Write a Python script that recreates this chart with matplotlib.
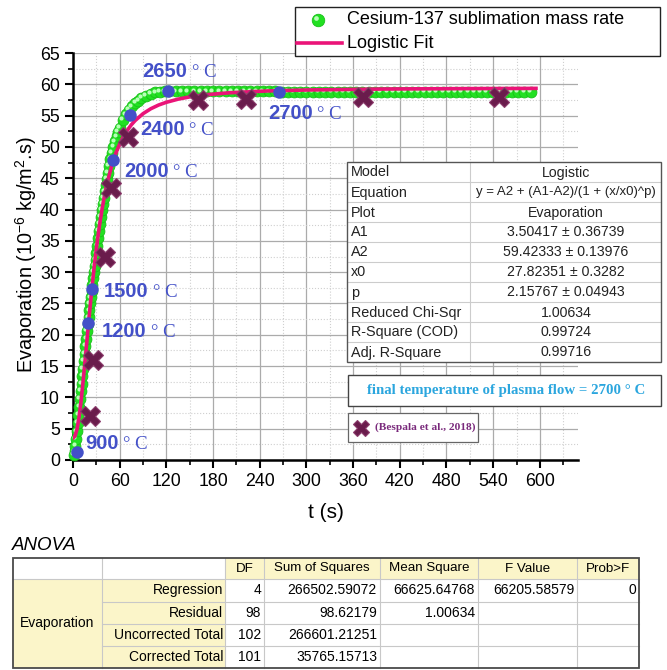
import matplotlib
matplotlib.use('Agg')
import matplotlib.pyplot as plt
from matplotlib.patches import Rectangle
from matplotlib.lines import Line2D
from matplotlib.transforms import offset_copy
from matplotlib.ticker import MultipleLocator

plt.rcParams['font.family'] = ['Liberation Sans', 'DejaVu Sans']
plt.rcParams['mathtext.fontset'] = 'custom'
plt.rcParams['mathtext.rm'] = 'Liberation Sans'
plt.rcParams['mathtext.it'] = 'Liberation Sans:italic'

# Cesium-137 sublimation mass rate (green points)
green_t = [1, 2, 3, 4, 5, 6, 7, 8, 9, 10,
           11, 12, 13, 14, 15, 16, 17, 18, 19, 20,
           21, 22, 23, 24, 25, 26, 27, 28, 29, 30,
           31.2, 32.4, 33.6, 34.8, 36.0, 37.2, 38.4, 39.6, 40.8, 42.0,
           43.2, 44.4, 46, 48, 50, 52, 54, 56, 58, 60,
           64, 68, 72, 76, 80, 84, 88, 94, 100, 106,
           112, 118, 124,
           132, 140, 148, 156, 164, 172, 180, 188, 196, 204,
           212, 220, 228, 236, 244, 252, 260, 268, 276, 284,
           292, 300, 308, 316, 324, 332, 340, 348, 356, 364,
           372, 380, 388, 396, 404, 412, 420, 428, 436, 444,
           452, 460, 468, 476, 484, 492, 500, 508, 516, 524,
           532, 540, 548, 556, 564, 572, 580, 588]
green_y = [0.8, 1.4, 2.3, 3.4, 4.6, 5.9, 7.2, 8.5, 9.8, 11.0,
           12.2, 13.4, 14.6, 15.8, 17.0, 18.2, 19.4, 20.6, 21.7, 22.8,
           23.9, 25.0, 26.0, 27.0, 28.0, 29.0, 30.0, 31.0, 32.0, 33.0,
           34.2, 35.4, 36.6, 37.7, 38.8, 39.9, 40.9, 41.9, 42.9, 43.9,
           44.9, 45.9, 47.0, 48.1, 49.1, 50.0, 50.9, 51.7, 52.4, 53.1,
           54.3, 55.2, 55.9, 56.5, 57.0, 57.4, 57.8, 58.2, 58.5, 58.7,
           58.8, 58.9, 58.9,
           58.9, 58.9, 58.9, 58.9, 58.9, 58.9, 58.9, 58.9, 58.9, 58.9,
           58.9, 58.9, 58.9, 58.9, 58.9, 58.9, 58.9, 58.8, 58.8, 58.8,
           58.8, 58.8, 58.8, 58.8, 58.8, 58.8, 58.8, 58.8, 58.8, 58.8,
           58.8, 58.8, 58.8, 58.8, 58.8, 58.8, 58.8, 58.8, 58.8, 58.8,
           58.8, 58.8, 58.8, 58.8, 58.8, 58.8, 58.8, 58.8, 58.8, 58.8,
           58.8, 58.8, 58.8, 58.8, 58.8, 58.8, 58.8, 58.8]

# logistic fit curve (pink)
fit_t = [0, 2.5, 5, 7.5, 10, 12.5, 15, 17.5, 20, 22.5, 25, 27.5, 30, 32.5, 35, 37.5,
         40, 42.5, 45, 50, 55, 60, 65, 70, 75, 80, 90, 100, 110, 120, 135, 150, 170,
         200, 250, 300, 400, 500, 595]
fit_y = [3.50, 3.81, 4.84, 6.62, 9.04, 11.94, 15.17, 18.53, 21.90, 25.17, 28.25, 31.11,
         33.73, 36.11, 38.25, 40.17, 41.89, 43.42, 44.79, 47.10, 48.98, 50.48, 51.70,
         52.70, 53.54, 54.23, 55.31, 56.10, 56.69, 57.13, 57.63, 57.99, 58.32, 58.64,
         58.94, 59.09, 59.25, 59.31, 59.35]

# labelled temperature points (blue)
temp_t = [4.7, 19.7, 24.8, 51.0, 73.3, 122.0, 265.0]
temp_y = [1.2, 21.8, 27.3, 47.9, 55.1, 58.9, 58.8]
temp_labels = ['900', '1200', '1500', '2000', '2400', '2650', '2700']
temp_label_pos = [(15.4, 2.7), (36.9, 20.5), (39.8, 26.9), (66, 46.1), (87, 52.8),
                  (89.6, 62.0), (251, 55.4)]

# Bespala et al., 2018
bes_t = [22, 26, 41, 48.5, 71, 161, 222, 373, 547]
bes_y = [7.1, 16.0, 32.4, 43.4, 51.6, 57.5, 57.7, 58.0, 58.0]

fit_rows = [('Model', 'Logistic'),
            ('Equation', 'y = A2 + (A1-A2)/(1 + (x/x0)^p)'),
            ('Plot', 'Evaporation'),
            ('A1', '3.50417 \u00b1 0.36739'),
            ('A2', '59.42333 \u00b1 0.13976'),
            ('x0', '27.82351 \u00b1 0.3282'),
            ('p', '2.15767 \u00b1 0.04943'),
            ('Reduced Chi-Sqr', '1.00634'),
            ('R-Square (COD)', '0.99724'),
            ('Adj. R-Square', '0.99716')]

anova_header = ['DF', 'Sum of Squares', 'Mean Square', 'F Value', 'Prob>F']
anova_rows = ['Regression', 'Residual', 'Uncorrected Total', 'Corrected Total']
anova_cells = [['4', '266502.59072', '66625.64768', '66205.58579', '0'],
               ['98', '98.62179', '1.00634', '', ''],
               ['102', '266601.21251', '', '', ''],
               ['101', '35765.15713', '', '', '']]

GREEN = '#22e022'
PINK = '#ea1478'
BLUE = '#4350c8'
PURPLE = '#6a1c4c'

W, H = 667, 670
fig = plt.figure(figsize=(W / 100, H / 100), dpi=100)


def fx(px):
    return px / W


def fy(py):
    return 1 - py / H


def box(x0, y0, x1, y1, **kw):
    r = Rectangle((fx(x0), fy(y1)), fx(x1) - fx(x0), fy(y0) - fy(y1),
                  transform=fig.transFigure, **kw)
    fig.add_artist(r)


def hline(x0, x1, y, **kw):
    fig.add_artist(Line2D([fx(x0), fx(x1)], [fy(y), fy(y)], transform=fig.transFigure, **kw))


def vline(x, y0, y1, **kw):
    fig.add_artist(Line2D([fx(x), fx(x)], [fy(y0), fy(y1)], transform=fig.transFigure, **kw))


ax = fig.add_axes([fx(73), fy(460), fx(578) - fx(73), fy(53) - fy(460)])
ax.set_xlim(0, 649)
ax.set_ylim(0, 65)
ax.xaxis.set_major_locator(MultipleLocator(60))
ax.xaxis.set_minor_locator(MultipleLocator(30))
ax.yaxis.set_major_locator(MultipleLocator(5))
ax.yaxis.set_minor_locator(MultipleLocator(2.5))
ax.grid(which='major', color='#ababab', lw=0.9)
ax.grid(which='minor', color='#cfcfcf', lw=0.8, ls=':')
ax.set_axisbelow(True)
for s in ['top', 'right']:
    ax.spines[s].set_visible(False)
for s in ['left', 'bottom']:
    ax.spines[s].set_linewidth(1.8)
ax.tick_params(which='major', direction='out', length=6, width=1.5, labelsize=12.8)
ax.tick_params(which='minor', direction='out', length=3.5, width=1.2)

hl = offset_copy(ax.transData, fig=fig, x=-1.2, y=1.2, units='points')
ax.plot(green_t, green_y, 'o', ms=7.8, color=GREEN, mec='#18c018', mew=0.6, zorder=3, clip_on=False)
ax.plot(green_t, green_y, 'o', ms=3.0, color='#b8ffb8', mew=0, zorder=3, transform=hl, clip_on=False)
ax.plot(fit_t, fit_y, '-', color=PINK, lw=2.6, zorder=4)
ax.plot(temp_t, temp_y, 'o', ms=9, color=BLUE, mew=0, zorder=5, clip_on=False)
ax.plot(bes_t, bes_y, 'X', ms=14.5, color=PURPLE, mec='#8c3c6c', mew=0.8, zorder=6)

for lab, (lx, ly) in zip(temp_labels, temp_label_pos):
    t = ax.text(lx, ly, lab, ha='left', va='center', fontsize=14.5, fontweight='bold',
                color=BLUE, zorder=7)
    ax.annotate('\u00b0 C', xy=(1, 0), xycoords=t, xytext=(3, 0), textcoords='offset points',
                ha='left', va='bottom', fontsize=13.5, family='Liberation Serif',
                color=BLUE, zorder=7)

fig.text(fx(326), fy(512), 't (s)', ha='center', va='center', fontsize=15)
fig.text(fx(26), fy(255), 'Evaporation (10$^{-6}$ kg/m$^{2}$.s)', ha='center', va='center',
         rotation=90, fontsize=14.3)

# legend
box(295, 7, 660, 56, facecolor='white', edgecolor='#222222', lw=1.0, zorder=10)
lg = offset_copy(fig.transFigure, fig=fig, x=-1.4, y=1.4, units='points')
fig.add_artist(Line2D([fx(318)], [fy(20)], marker='o', ms=9, color=GREEN, mec='#18c018',
                      mew=0.6, transform=fig.transFigure, zorder=11))
fig.add_artist(Line2D([fx(318)], [fy(20)], marker='o', ms=3.4, color='#b8ffb8', mew=0,
                      transform=lg, zorder=11))
fig.add_artist(Line2D([fx(297), fx(342)], [fy(43), fy(43)], color=PINK, lw=2.6,
                      transform=fig.transFigure, zorder=11))
fig.text(fx(347), fy(20), 'Cesium-137 sublimation mass rate', ha='left', va='center',
         fontsize=13, zorder=11)
fig.text(fx(347), fy(43), 'Logistic Fit', ha='left', va='center', fontsize=13, zorder=11)

# fit parameter table
box(347, 162, 661, 362, facecolor='white', edgecolor='none', zorder=10)
for i in range(1, 10):
    hline(347, 661, 162 + 20 * i, color='#cccccc', lw=0.8, zorder=11)
vline(470, 162, 362, color='#cccccc', lw=0.8, zorder=11)
box(347, 162, 661, 362, facecolor='none', edgecolor='#555555', lw=1.0, zorder=12)
for i, (k, v) in enumerate(fit_rows):
    yc = 172.5 + 20 * i
    fig.text(fx(351), fy(yc), k, ha='left', va='center', fontsize=10.4, color='#222222', zorder=12)
    fig.text(fx(566), fy(yc), v, ha='center', va='center', fontsize=10.2 if i != 1 else 9.5,
             color='#222222', zorder=12)

# final temperature box
box(348, 375, 661, 406, facecolor='white', edgecolor='#444444', lw=1.0, zorder=10)
fig.text(fx(506), fy(390.5), 'final temperature of plasma flow = 2700 \u00b0 C', ha='center',
         va='center', fontsize=10.7, fontweight='bold', family='Liberation Serif',
         color='#2ba6de', zorder=11)

# Bespala legend
box(348, 413, 478, 442, facecolor='white', edgecolor='#666666', lw=0.9, zorder=10)
fig.add_artist(Line2D([fx(361)], [fy(427.5)], marker='X', ms=11, color=PURPLE, mec='#8c3c6c',
                      mew=0.8, transform=fig.transFigure, zorder=11))
fig.text(fx(375), fy(427.5), '(Bespala et al., 2018)', ha='left', va='center', fontsize=8.2,
         fontweight='bold', family='Liberation Serif', color='#7a2a7c', zorder=11)

# ANOVA table
fig.text(fx(12), fy(545), 'ANOVA', ha='left', va='center', fontsize=13.5, style='italic')
cx = [13, 102, 225, 264, 380, 478, 577, 639]
ry = [558, 579, 601.5, 624, 646, 668]
YEL = '#fbf5c9'
box(cx[0], ry[0], cx[-1], ry[-1], facecolor='white', edgecolor='none', zorder=2)
box(cx[2], ry[0], cx[-1], ry[1], facecolor=YEL, edgecolor='none', zorder=2)
box(cx[0], ry[1], cx[2], ry[-1], facecolor=YEL, edgecolor='none', zorder=2)
for y in ry[1:-1]:
    hline(cx[1], cx[-1], y, color='#c8c8c8', lw=0.8, zorder=3)
hline(cx[0], cx[1], ry[1], color='#c8c8c8', lw=0.8, zorder=3)
for x in cx[1:-1]:
    vline(x, ry[0], ry[-1], color='#c8c8c8', lw=0.8, zorder=3)
box(cx[0], ry[0], cx[-1], ry[-1], facecolor='none', edgecolor='#4a4a4a', lw=1.3, zorder=4)

for j, h in enumerate(anova_header):
    fig.text(fx((cx[j + 2] + cx[j + 3]) / 2), fy((ry[0] + ry[1]) / 2), h, ha='center',
             va='center', fontsize=9.6, zorder=5)
fig.text(fx((cx[0] + cx[1]) / 2), fy((ry[1] + ry[-1]) / 2), 'Evaporation', ha='center',
         va='center', fontsize=10, zorder=5)
for i, name in enumerate(anova_rows):
    yc = (ry[i + 1] + ry[i + 2]) / 2
    fig.text(fx(cx[2] - 2), fy(yc), name, ha='right', va='center', fontsize=10, zorder=5)
    for j, val in enumerate(anova_cells[i]):
        if val:
            fig.text(fx(cx[j + 3] - 3), fy(yc), val, ha='right', va='center', fontsize=10,
                     zorder=5)

fig.savefig('out.png', dpi=100)
